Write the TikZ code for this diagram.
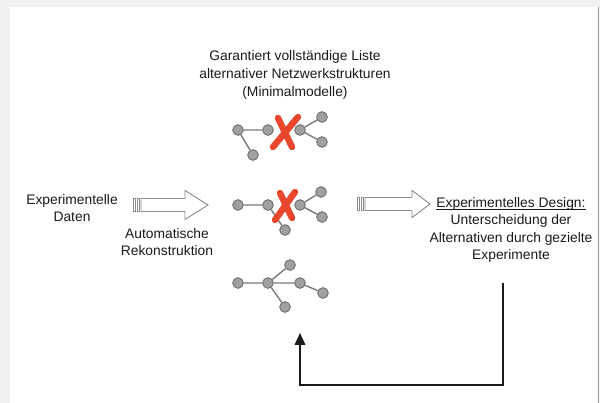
\documentclass[tikz,border=0pt]{standalone}
\usepackage{fontspec}
\setmainfont{Liberation Sans}
\usetikzlibrary{arrows.meta,positioning,calc}
\definecolor{ink}{HTML}{1A1A1A}
\definecolor{frame}{HTML}{F1F1F1}
\definecolor{rim}{HTML}{A8A8A8}
\definecolor{knot}{HTML}{A0A0A0}
\definecolor{knotline}{HTML}{666666}
\definecolor{edge}{HTML}{7A7A7A}
\definecolor{cross}{HTML}{E8472D}
\definecolor{hollow}{HTML}{8C8C8C}
\newcommand{\ulinetext}[1]{\leavevmode\setbox0\hbox{#1}\rlap{\rule[-1.8pt]{\wd0}{0.6pt}}\box0}
\tikzset{
  >=Latex,
  every node/.style={font=\fontsize{11.8}{15}\selectfont,text=ink},
  textblock/.style={align=center,inner sep=1pt},
  knotnode/.style={circle,draw=knotline,fill=knot,line width=0.7pt,minimum size=3.2mm,inner sep=0pt},
  link/.style={draw=edge,line width=1.2pt},
  crossline/.style={draw=cross,line width=5.5pt,line cap=round},
  blockarr/.style={draw=hollow,fill=white,line width=0.8pt,line join=miter},
  feedback/.style={-{Triangle[length=3.6mm,width=3.2mm]},draw=ink,line width=1.5pt},
}

\begin{document}
\begin{tikzpicture}[x=0.03cm,y=0.03cm]
\useasboundingbox (0,0) rectangle (600,403);
\fill[frame] (0,0) rectangle (600,403);
\fill[white] (10,0) rectangle (597,396);
\draw[rim,line width=0.8pt] (598,0) -- (598,396);

\node[textblock] (title) at (295,328) {Garantiert vollständige Liste\\alternativer Netzwerkstrukturen\\(Minimalmodelle)};
\node[textblock] (data) at (72,195) {Experimentelle\\Daten};
\node[textblock] (recon) at (167,161) {Automatische\\Rekonstruktion};
\node[textblock] (design) at (511,173) {\ulinetext{Experimentelles Design:}\\Unterscheidung der\\Alternativen durch gezielte\\Experimente};

\node[knotnode] (g1a) at (238,273) {};
\node[knotnode] (g1b) at (268,273) {};
\node[knotnode] (g1c) at (300,273) {};
\node[knotnode] (g1d) at (322,286) {};
\node[knotnode] (g1e) at (322,261) {};
\node[knotnode] (g1f) at (253,248) {};
\draw[link] (g1a) -- (g1b) (g1a) -- (g1f) (g1c) -- (g1d) (g1c) -- (g1e);
\draw[crossline] (298,286) -- (273,256) (278,285) -- (292,256);

\node[knotnode] (g2a) at (238,198) {};
\node[knotnode] (g2b) at (268,198) {};
\node[knotnode] (g2c) at (300,198) {};
\node[knotnode] (g2d) at (321,211) {};
\node[knotnode] (g2e) at (322,186) {};
\node[knotnode] (g2f) at (285,173) {};
\draw[link] (g2a) -- (g2b) (g2b) -- (g2f) (g2c) -- (g2d) (g2c) -- (g2e);
\draw[crossline] (295,211) -- (275,183) (280,210) -- (292,185);

\node[knotnode] (g3a) at (238,120) {};
\node[knotnode] (g3b) at (268,120) {};
\node[knotnode] (g3c) at (300,120) {};
\node[knotnode] (g3d) at (290,138) {};
\node[knotnode] (g3e) at (323,110) {};
\node[knotnode] (g3f) at (285,96) {};
\draw[link] (g3a) -- (g3b) (g3b) -- (g3c) (g3b) -- (g3d) (g3b) -- (g3f) (g3c) -- (g3e);

\draw[blockarr,shift={(133,198)}] (0,-6.5) rectangle (2.5,6.5);
\draw[blockarr,shift={(133,198)}] (4,-6.5) rectangle (6.5,6.5);
\draw[blockarr,shift={(133,198)}] (8,-6.5) -- (52,-6.5) -- (52,-14.5) -- (75,0) -- (52,14.5) -- (52,6.5) -- (8,6.5) -- cycle;

\draw[blockarr,shift={(357,199)}] (0,-6.5) rectangle (2.5,6.5);
\draw[blockarr,shift={(357,199)}] (4,-6.5) rectangle (6.5,6.5);
\draw[blockarr,shift={(357,199)}] (8,-6.5) -- (55,-6.5) -- (55,-13.5) -- (73,0) -- (55,13.5) -- (55,6.5) -- (8,6.5) -- cycle;

\coordinate (fbstart) at (503,120);
\coordinate (fbend) at (300,70);
\draw[feedback] (fbstart) -- (503,18) -| (fbend);
\end{tikzpicture}
\end{document}
